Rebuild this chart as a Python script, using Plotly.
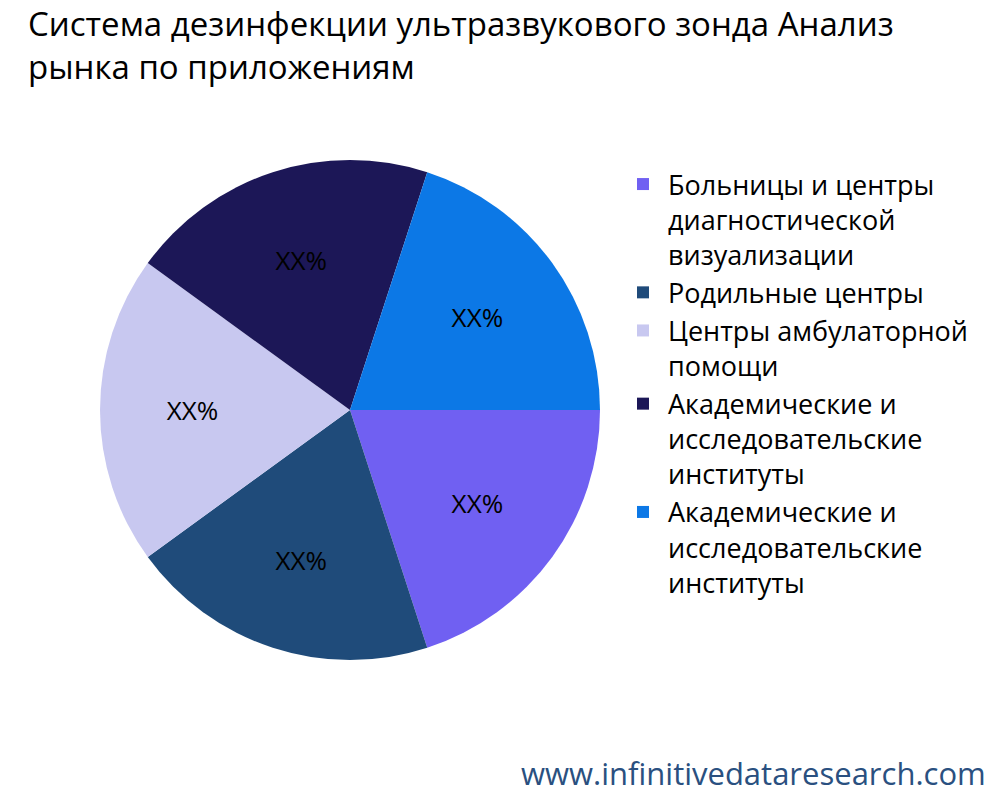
import plotly.graph_objects as go

labels = [
    "Больницы и центры<br>диагностической<br>визуализации",
    "Родильные центры",
    "Центры амбулаторной<br>помощи",
    "Академические и<br>исследовательские<br>институты",
    "Академические и<br>исследовательские<br>институты\u200b",
]
values = [20, 20, 20, 20, 20]
texts = ["XX%", "XX%", "XX%", "XX%", "XX%"]
colors = ["#7060F2", "#1F4B7A", "#C8C8F0", "#1C1757", "#0C78E6"]

fig = go.Figure(go.Pie(
    labels=labels, values=values, text=texts, textinfo="text",
    sort=False, direction="clockwise", rotation=90,
    marker=dict(colors=colors), textfont=dict(size=26, color="black", family="Open Sans"),
    domain=dict(x=[0.092, 0.592], y=[0.185, 0.81]), hoverinfo="label",
))

fig.update_layout(
    width=1000, height=800,
    font=dict(family="Open Sans", color="black"),
    margin=dict(l=0, r=0, t=0, b=0),
    title=dict(text="Система дезинфекции ультразвукового зонда Анализ<br>рынка по приложениям",
               x=0.02, xanchor="left", y=0.965, yanchor="top", font=dict(size=33)),
    legend=dict(x=0.61, y=0.81, xanchor="left", yanchor="top", font=dict(size=27),
                valign="top", itemwidth=40),
    annotations=[dict(text="www.infinitivedataresearch.com", x=0.98, y=0.015,
                      xref="paper", yref="paper", xanchor="right", yanchor="bottom",
                      showarrow=False, font=dict(size=31, color="#2A5080"))],
)

fig.write_html("out.html")
